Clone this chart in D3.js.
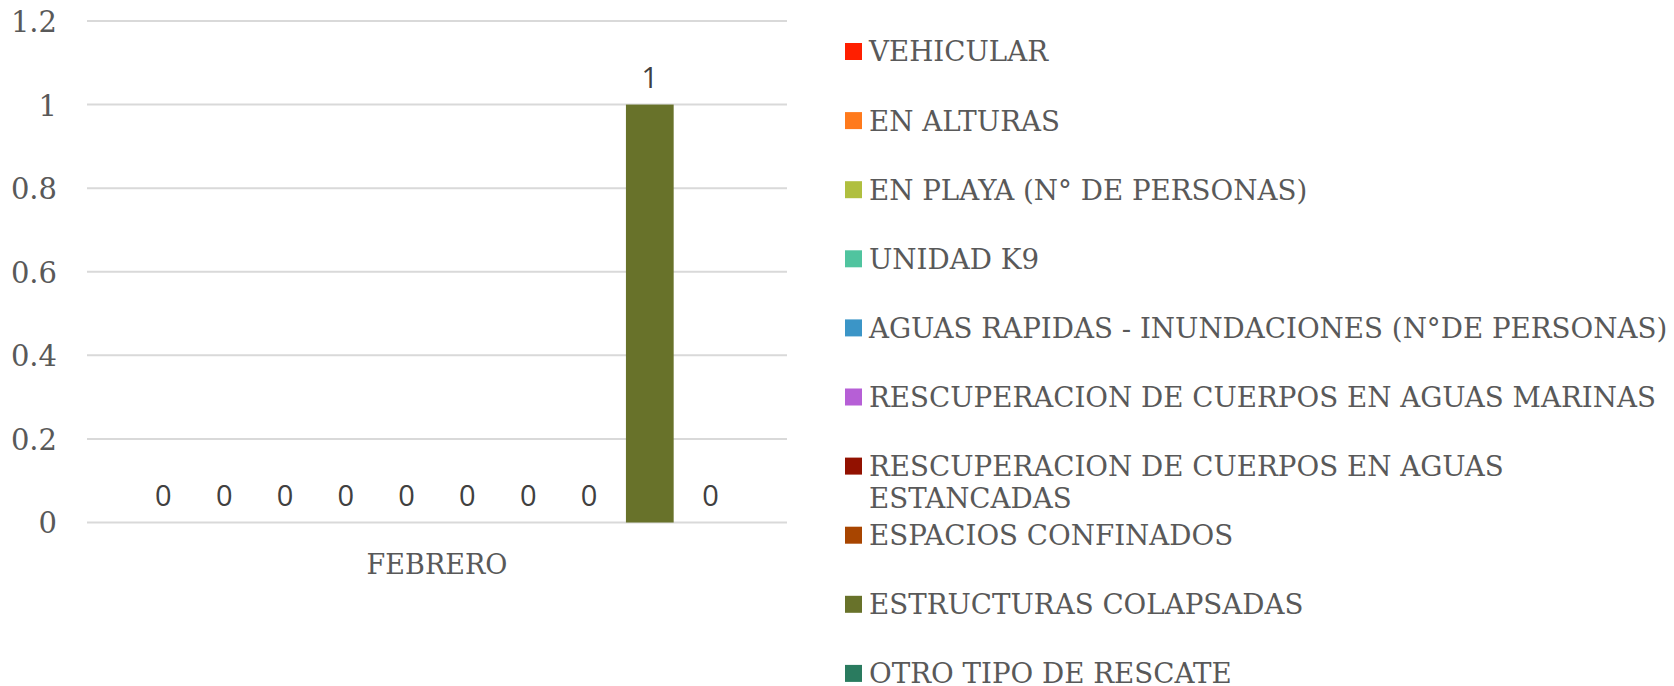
<!DOCTYPE html>
<html>
<head>
<meta charset="utf-8">
<script src="https://cdn.jsdelivr.net/npm/d3@7"></script>
<style>
  body { margin: 0; background: #fff; }
  svg { display: block; }
  .grid line { stroke: #d9d9d9; stroke-width: 2; }
  .tick text, .legend text, .cat { fill: #595959; font-family: "DejaVu Serif", serif; }
  .lbl { fill: #404040; font-family: "Open Sans", sans-serif; }
</style>
</head>
<body>
<script>
const categories = ["FEBRERO"]
const series = [
    "VEHICULAR",
    "EN ALTURAS",
    "EN PLAYA (N° DE PERSONAS)",
    "UNIDAD K9",
    "AGUAS RAPIDAS - INUNDACIONES (N°DE PERSONAS)",
    "RESCUPERACION DE CUERPOS EN AGUAS MARINAS",
    "RESCUPERACION DE CUERPOS EN AGUAS ESTANCADAS",
    "ESPACIOS CONFINADOS",
    "ESTRUCTURAS COLAPSADAS",
    "OTRO TIPO DE RESCATE"
]
const values = [0, 0, 0, 0, 0, 0, 0, 0, 1, 0]
const colors = ["#ff1f00", "#ff7a1c", "#b0bf3f", "#50c49f", "#3b95c7", "#b65fd6", "#921100", "#a84500", "#68722a", "#2a7b5f"]
const yTicks = [0, 0.2, 0.4, 0.6, 0.8, 1, 1.2]

const width = 1674, height = 686
const plot = { left: 87, right: 787, top: 21, bottom: 522.5 }

const svg = d3.select("body")
    .append("svg")
    .attr("width", width)
    .attr("height", height)

const y = d3.scaleLinear().domain([0, 1.2]).range([plot.bottom, plot.top])

const x0 = d3.scaleBand().domain(categories).range([plot.left, plot.right])
const x1 = d3.scaleBand()
    .domain(series)
    .range([plot.left, plot.right])
    .paddingInner(0.215)
    .paddingOuter(0.864)

// gridlines
svg.append("g")
    .attr("class", "grid")
    .selectAll("line")
    .data(yTicks)
    .join("line")
    .attr("x1", plot.left)
    .attr("x2", plot.right)
    .attr("y1", d => y(d))
    .attr("y2", d => y(d))

// y axis labels, no domain line
const yaxis = d3.axisLeft(y).tickValues(yTicks).tickSize(0).tickPadding(0).tickFormat(d3.format("~g"))
svg.append("g")
    .attr("transform", `translate(57,0)`)
    .call(yaxis)
    .call(g => g.select(".domain").remove())
    .selectAll("text")
    .attr("font-size", 29)
    .attr("dy", "0.36em")

// bars
svg.append("g")
    .selectAll("rect")
    .data(values)
    .join("rect")
    .attr("x", (d, i) => x1(series[i]))
    .attr("width", x1.bandwidth())
    .attr("y", d => y(d))
    .attr("height", d => y(0) - y(d))
    .attr("fill", (d, i) => colors[i])

// data labels
svg.append("g")
    .selectAll("text")
    .data(values)
    .join("text")
    .attr("class", "lbl")
    .attr("x", (d, i) => x1(series[i]) + x1.bandwidth() / 2)
    .attr("y", d => y(d) - 17)
    .attr("text-anchor", "middle")
    .attr("font-size", 29)
    .text(d => d)

// category label
svg.append("text")
    .attr("class", "cat")
    .attr("x", x0(categories[0]) + x0.bandwidth() / 2)
    .attr("y", 574)
    .attr("text-anchor", "middle")
    .attr("font-size", 27)
    .text(categories[0])

// legend
const legend = svg.append("g").attr("class", "legend")
const rowY = i => 51.5 + i * 69.1
const wrapAt = { 6: ["RESCUPERACION DE CUERPOS EN AGUAS", "ESTANCADAS"] }

series.forEach((s, i) => {
    const g = legend.append("g")
    g.append("rect")
        .attr("x", 845)
        .attr("y", rowY(i) - 8.5)
        .attr("width", 17)
        .attr("height", 17)
        .attr("fill", colors[i])
    const lines = wrapAt[i] || [s]
    lines.forEach((t, k) => {
        g.append("text")
            .attr("x", 869)
            .attr("y", rowY(i) + k * 32)
            .attr("dy", "0.36em")
            .attr("font-size", 27.7)
            .text(t)
    })
})
</script>
</body>
</html>
